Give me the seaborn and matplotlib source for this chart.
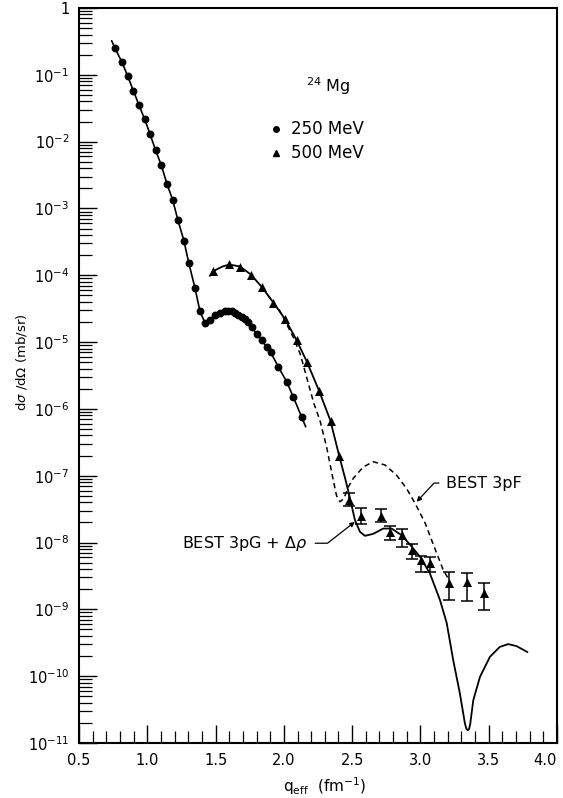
import numpy as np
import pandas as pd
import matplotlib
matplotlib.use("Agg")
import matplotlib.pyplot as plt
from matplotlib.ticker import FixedLocator, FixedFormatter, MultipleLocator, LogLocator, NullFormatter
import seaborn as sns

# ---- 250 MeV measurements ----
q_250 = [0.764, 0.815, 0.856, 0.898, 0.939, 0.981, 1.020, 1.061, 1.103, 1.144,
         1.186, 1.225, 1.269, 1.303, 1.349, 1.386, 1.422, 1.459, 1.496, 1.532,
         1.569, 1.593, 1.618, 1.642, 1.666, 1.691, 1.715, 1.739, 1.764, 1.800,
         1.837, 1.874, 1.903, 1.959, 2.020, 2.069, 2.130]
xs_250 = [2.49e-1, 1.54e-1, 9.59e-2, 5.78e-2, 3.53e-2, 2.16e-2, 1.30e-2, 7.41e-3, 4.42e-3, 2.34e-3,
          1.34e-3, 6.61e-4, 3.24e-4, 1.55e-4, 6.46e-5, 2.88e-5, 1.95e-5, 2.14e-5, 2.51e-5, 2.69e-5,
          2.88e-5, 2.95e-5, 2.88e-5, 2.75e-5, 2.57e-5, 2.40e-5, 2.24e-5, 2.00e-5, 1.70e-5, 1.32e-5,
          1.07e-5, 8.51e-6, 7.08e-6, 4.27e-6, 2.57e-6, 1.51e-6, 7.59e-7]

# curve drawn through the 250 MeV data
curve_250_q = [0.739] + q_250 + [2.160]
curve_250_xs = [3.24e-1] + xs_250 + [5.4e-7]

# ---- 500 MeV measurements ----
q_500 = [1.483, 1.600, 1.679, 1.759, 1.842, 1.922, 2.010, 2.094, 2.172, 2.256,
         2.343, 2.405, 2.479, 2.562, 2.708, 2.777, 2.867, 2.940, 3.001, 3.069,
         3.211, 3.338, 3.465]
xs_500 = [1.15e-4, 1.45e-4, 1.35e-4, 1.02e-4, 6.61e-5, 3.89e-5, 2.19e-5, 1.07e-5, 5.01e-6, 1.86e-6,
          6.61e-7, 1.95e-7, 4.37e-8, 2.51e-8, 2.51e-8, 1.45e-8, 1.29e-8, 7.76e-9, 5.50e-9, 5.01e-9,
          2.51e-9, 2.57e-9, 1.78e-9]

# error bars of the large-q 500 MeV points
err_q = [2.479, 2.562, 2.708, 2.777, 2.867, 2.940, 3.001, 3.069, 3.211, 3.338, 3.465]
err_xs = [4.37e-8, 2.51e-8, 2.51e-8, 1.45e-8, 1.29e-8, 7.76e-9, 5.50e-9, 5.01e-9, 2.51e-9, 2.57e-9, 1.78e-9]
err_hi = [5.50e-8, 3.24e-8, 3.16e-8, 1.78e-8, 1.58e-8, 9.55e-9, 6.31e-9, 6.17e-9, 3.63e-9, 3.47e-9, 2.51e-9]
err_lo = [3.47e-8, 1.91e-8, 2.00e-8, 1.10e-8, 8.71e-9, 5.62e-9, 3.63e-9, 3.63e-9, 1.38e-9, 1.35e-9, 9.77e-10]

# ---- BEST 3pG + delta-rho (solid) ----
pg_q = [1.459, 1.500, 1.550, 1.600, 1.680, 1.760, 1.840, 1.920, 2.010, 2.090,
        2.170, 2.260, 2.340, 2.400, 2.450, 2.480, 2.520, 2.557, 2.594, 2.654,
        2.728, 2.789, 2.862, 2.923, 2.996, 3.069, 3.143, 3.192, 3.240, 3.289,
        3.326, 3.337, 3.347, 3.356, 3.365, 3.387, 3.436, 3.509, 3.582, 3.643,
        3.704, 3.784]
pg_xs = [9.77e-5, 1.20e-4, 1.35e-4, 1.45e-4, 1.35e-4, 1.02e-4, 6.61e-5, 3.98e-5, 2.19e-5, 1.10e-5,
         5.01e-6, 1.82e-6, 6.76e-7, 2.19e-7, 8.91e-8, 5.01e-8, 2.19e-8, 1.45e-8, 1.26e-8, 1.35e-8,
         1.62e-8, 1.62e-8, 1.29e-8, 9.33e-9, 6.17e-9, 3.47e-9, 1.38e-9, 6.31e-10, 1.74e-10, 5.50e-11,
         1.95e-11, 1.62e-11, 1.55e-11, 1.62e-11, 1.95e-11, 4.37e-11, 9.77e-11, 1.95e-10, 2.75e-10, 3.02e-10,
         2.82e-10, 2.29e-10]

# ---- BEST 3pF (dashed) ----
pf_q = [1.840, 1.920, 1.970, 2.010, 2.070, 2.120, 2.170, 2.220, 2.264, 2.313,
        2.360, 2.386, 2.411, 2.440, 2.471, 2.508, 2.581, 2.654, 2.740, 2.825,
        2.898, 2.960, 3.035, 3.100, 3.165, 3.210]
pf_xs = [6.61e-5, 3.98e-5, 2.95e-5, 2.04e-5, 1.17e-5, 6.61e-6, 2.82e-6, 1.20e-6, 6.76e-7, 2.69e-7,
         8.91e-8, 5.01e-8, 4.07e-8, 4.57e-8, 6.76e-8, 9.12e-8, 1.35e-7, 1.62e-7, 1.45e-7, 1.02e-7,
         6.46e-8, 3.89e-8, 1.95e-8, 8.71e-9, 3.98e-9, 2.75e-9]

y_tick_vals = [1e0, 1e-1, 1e-2, 1e-3, 1e-4, 1e-5, 1e-6, 1e-7, 1e-8, 1e-9, 1e-10, 1e-11]
y_tick_text = ["1", r"10$^{-1}$", r"10$^{-2}$", r"10$^{-3}$", r"10$^{-4}$", r"10$^{-5}$",
               r"10$^{-6}$", r"10$^{-7}$", r"10$^{-8}$", r"10$^{-9}$", r"10$^{-10}$", r"10$^{-11}$"]
x_tick_vals = [0.5, 1.0, 1.5, 2.0, 2.5, 3.0, 3.5, 4.0]
x_tick_text = ["0.5", "1.0", "1.5", "2.0", "2.5", "3.0", "3.5", "4.0"]

sns.set_style("ticks")
plt.rcParams["font.family"] = ["DejaVu Sans"]
plt.rcParams["mathtext.fontset"] = "dejavusans"
for key in ("text.color", "axes.labelcolor", "xtick.color", "ytick.color", "axes.edgecolor"):
    plt.rcParams[key] = "black"

W, H = 563, 798
fig = plt.figure(figsize=(W / 100, H / 100), dpi=100)
ax = fig.add_axes([79 / W, 1 - 743 / H, (557 - 79) / W, (743 - 8) / H])

df250 = pd.DataFrame({"q": curve_250_q, "xs": curve_250_xs})
dfpg = pd.DataFrame({"q": pg_q, "xs": pg_xs})
dfpf = pd.DataFrame({"q": pf_q, "xs": pf_xs})

sns.lineplot(data=df250, x="q", y="xs", ax=ax, color="black", lw=1.2, sort=False, estimator=None)
sns.lineplot(data=dfpg, x="q", y="xs", ax=ax, color="black", lw=1.3, sort=False, estimator=None)
sns.lineplot(data=dfpf, x="q", y="xs", ax=ax, color="black", lw=1.1, sort=False, estimator=None,
             linestyle=(0, (3.5, 2.5)))

err_xs_a = np.array(err_xs)
ax.errorbar(err_q, err_xs, yerr=[err_xs_a - np.array(err_lo), np.array(err_hi) - err_xs_a],
            fmt="none", ecolor="black", elinewidth=1.1, capsize=4.5, capthick=1.1, zorder=3)

sns.scatterplot(x=q_250, y=xs_250, ax=ax, marker="o", s=32, color="black", edgecolor="black",
                linewidth=0, zorder=4)
sns.scatterplot(x=q_500, y=xs_500, ax=ax, marker="^", s=42, color="black", edgecolor="black",
                linewidth=0, zorder=4)

ax.set_yscale("log")
ax.set_xlim(0.5, 4.0)
ax.set_ylim(1e-11, 1)

ax.yaxis.set_major_locator(FixedLocator(y_tick_vals))
ax.yaxis.set_major_formatter(FixedFormatter(y_tick_text))
ax.yaxis.set_minor_locator(LogLocator(base=10, subs=np.arange(2, 10), numticks=100))
ax.yaxis.set_minor_formatter(NullFormatter())
ax.xaxis.set_major_locator(FixedLocator(x_tick_vals))
ax.xaxis.set_major_formatter(FixedFormatter(x_tick_text))
ax.xaxis.set_minor_locator(MultipleLocator(0.1))

ax.tick_params(which="major", direction="in", length=13, width=1.0, labelsize=10.5, pad=7)
ax.tick_params(which="minor", direction="in", length=9, width=0.9)
ax.tick_params(top=False, right=False, which="both")
for s in ax.spines.values():
    s.set_linewidth(1.5)
    s.set_visible(True)

# keep the last x tick label inside the frame
ax.get_xticklabels()[-1].set_horizontalalignment("right")
ax.get_xticklabels()[-1].set_x(4.03)

ax.set_xlabel(r"q$_{\mathregular{eff}}$  (fm$^{-1}$)", fontsize=11)
ax.xaxis.label.set_va("center")
ax.xaxis.set_label_coords((325 - 79) / (557 - 79), -(786 - 743) / (743 - 8))
ax.set_ylabel(r"d$\sigma$ /d$\Omega$ (mb/sr)", fontsize=9.5)
ax.yaxis.label.set_va("center")
ax.yaxis.set_label_coords(-(79 - 22) / (557 - 79), (743 - 362) / (743 - 8))

# nucleus and legend
ax.text(2.16, 10 ** -1.17, r"$^{\mathregular{24}}$ Mg", fontsize=11.5, ha="left", va="center")
ax.plot([1.946], [10 ** -1.81], marker="o", color="black", ms=4)
ax.text(2.05, 10 ** -1.81, "250 MeV", fontsize=12, ha="left", va="center")
ax.plot([1.946], [10 ** -2.17], marker="^", color="black", ms=4.5)
ax.text(2.05, 10 ** -2.17, "500 MeV", fontsize=12, ha="left", va="center")

# curve labels with leader lines
arrow_kw = dict(arrowstyle="-|>", color="black", lw=0.9, mutation_scale=7, shrinkA=3, shrinkB=0)
ax.annotate(r"BEST 3pG + $\Delta\rho$", xy=(2.52, 10 ** -7.69), xytext=(2.175, 10 ** -8.01),
            ha="right", va="center", fontsize=11.5,
            arrowprops=dict(connectionstyle="angle,angleA=0,angleB=38,rad=0", **arrow_kw))
ax.annotate("BEST 3pF", xy=(2.972, 10 ** -7.39), xytext=(3.19, 10 ** -7.11),
            ha="left", va="center", fontsize=11.5,
            arrowprops=dict(connectionstyle="angle,angleA=0,angleB=47,rad=0", **arrow_kw))

fig.savefig("out.png", dpi=100)
